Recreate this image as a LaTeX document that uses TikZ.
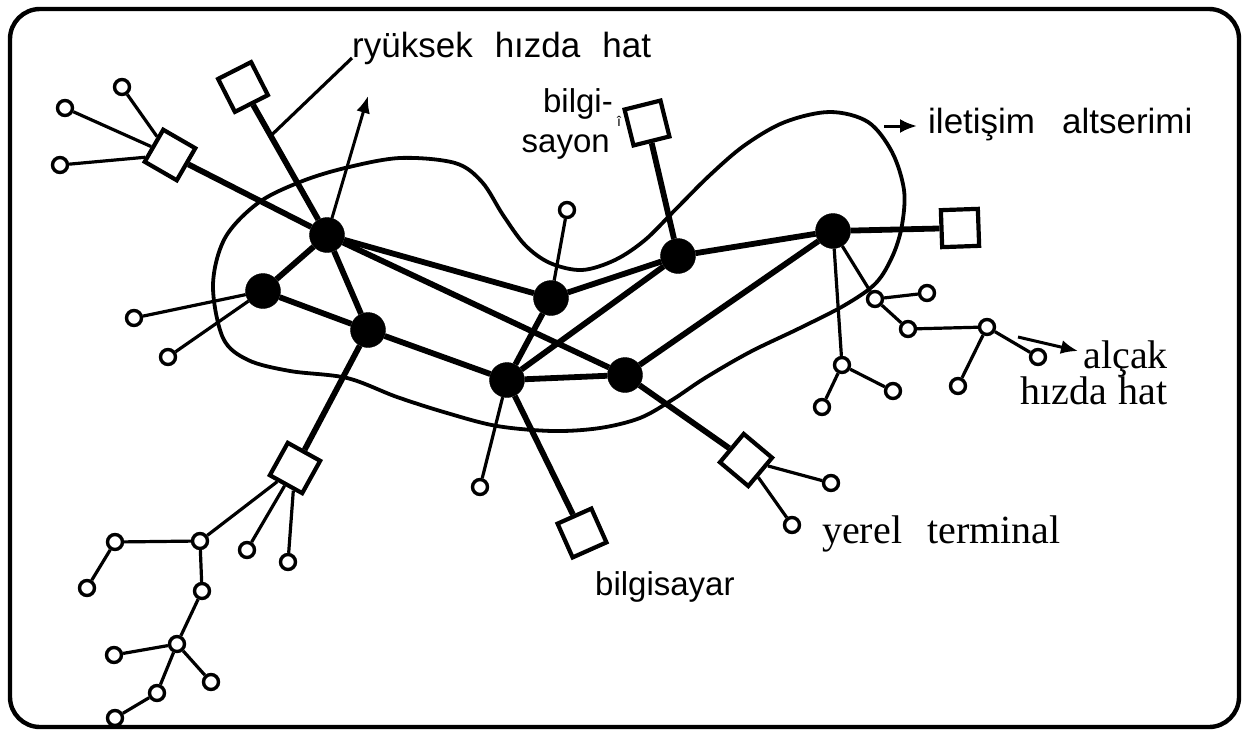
\documentclass[tikz,border=0pt]{standalone}
\usepackage{fontspec}
\setmainfont{Liberation Serif}
\newfontfamily\labelsans{Liberation Sans}
\usetikzlibrary{calc,arrows.meta}

\tikzset{
  hub/.style={circle,fill=black,draw=black,minimum size=35pt,inner sep=0pt},
  host/.style={rectangle,draw=black,fill=white,line width=4.2pt,minimum size=37pt,inner sep=0pt},
  term/.style={circle,draw=black,fill=white,line width=3.4pt,minimum size=15pt,inner sep=0pt},
  trunk/.style={line width=5.8pt},
  spur/.style={line width=3.2pt},
  contour/.style={line width=3.8pt},
  pointer/.style={line width=3pt,-{Latex[length=17pt,width=14pt]}},
  sanslabel/.style={font=\labelsans\fontsize{33}{36}\selectfont,inner sep=0pt},
  biglabel/.style={font=\labelsans\fontsize{35}{38}\selectfont,inner sep=0pt},
  seriflabel/.style={font=\fontsize{40}{40}\selectfont,inner sep=0pt},
}

\begin{document}
\begin{tikzpicture}[x=1pt,y=-1pt]
\useasboundingbox (0,0) rectangle (1247,736);

% outer frame
\draw[line width=4.4pt,rounded corners=30pt] (10,9) rectangle (1239,727);

% communication subnetwork boundary
\draw[contour] plot[smooth cycle,tension=0.55] coordinates {
  (213,285) (225,238) (258,203) (300,182) (345,168) (400,158) (455,163)
  (482,182) (503,215) (525,245) (550,263) (582,270) (615,260) (645,240)
  (675,210) (710,175) (745,145) (785,122) (830,112) (868,122) (892,152)
  (904,190) (902,225) (893,255) (876,283) (845,305) (800,328) (750,352)
  (705,378) (672,400) (640,418) (600,428) (553,431) (497,426) (447,413)
  (397,397) (347,378) (290,371) (248,360) (223,338)};

% switching nodes
\node[hub] (A) at (327,235) {};
\node[hub] (B) at (263,291) {};
\node[hub] (C) at (368,330) {};
\node[hub] (D) at (551,298) {};
\node[hub] (E) at (678,256) {};
\node[hub] (F) at (833,231) {};
\node[hub] (G) at (507,380) {};
\node[hub] (H) at (625,375) {};

% hosts
\node[host,rotate=-30] (S1) at (170,155) {};
\node[host,rotate=27]  (S2) at (243,87) {};
\node[host,rotate=14]  (S3) at (647,123) {};
\node[host,rotate=2]   (S4) at (960,228) {};
\node[host,rotate=-29] (S5) at (295,468) {};
\node[host,rotate=24]  (S6) at (582,533) {};
\node[host,rotate=50]  (S7) at (746,460) {};

% terminals
\node[term] (t1) at (65,108) {};
\node[term] (t2) at (122,87) {};
\node[term] (t3) at (60,165) {};
\node[term] (t4) at (134,318) {};
\node[term] (t5) at (168,357) {};
\node[term] (t6) at (567,210) {};
\node[term] (t7) at (480,487) {};
\node[term] (t8) at (831,483) {};
\node[term] (t9) at (792,525) {};
\node[term] (u1) at (247,550) {};
\node[term] (u2) at (288,562) {};
\node[term] (T1) at (200,541) {};
\node[term] (T2) at (115,542) {};
\node[term] (T3) at (87,588) {};
\node[term] (T4) at (202,591) {};
\node[term] (T5) at (177,644) {};
\node[term] (T6) at (114,655) {};
\node[term] (T7) at (211,682) {};
\node[term] (T8) at (157,693) {};
\node[term] (T9) at (115,718) {};
\node[term] (R1) at (875,299) {};
\node[term] (R2) at (927,293) {};
\node[term] (R3) at (908,329) {};
\node[term] (R4) at (987,327) {};
\node[term] (R5) at (1038,357) {};
\node[term] (R6) at (958,386) {};
\node[term] (R7) at (842,365) {};
\node[term] (R8) at (822,407) {};
\node[term] (R9) at (893,391) {};

% high-speed trunk lines
\draw[trunk] (A) -- (B);
\draw[trunk] (A) -- (C);
\draw[trunk] (A) -- (D);
\draw[trunk] (A) -- (H);
\draw[trunk] (B) -- (C);
\draw[trunk] (C) -- (G);
\draw[trunk] (G) -- (H);
\draw[trunk] (G) -- (D);
\draw[trunk] (G) -- (E);
\draw[trunk] (D) -- (E);
\draw[trunk] (E) -- (F);
\draw[trunk] (H) -- (F);
\draw[trunk] (A) -- (S1);
\draw[trunk] (A) -- (S2);
\draw[trunk] (E) -- (S3);
\draw[trunk] (F) -- (S4);
\draw[trunk] (C) -- (S5);
\draw[trunk] (G) -- (S6);
\draw[trunk] (H) -- (S7);

% low-speed lines
\draw[spur] (t1) -- (S1);
\draw[spur] (t2) -- (S1);
\draw[spur] (t3) -- (S1);
\draw[spur] (t4) -- (B);
\draw[spur] (t5) -- (B);
\draw[spur] (t6) -- (D);
\draw[spur] (t7) -- (G);
\draw[spur] (t8) -- (S7);
\draw[spur] (t9) -- (S7);
\draw[spur] (u1) -- (S5);
\draw[spur] (u2) -- (S5);
\draw[spur] (T1) -- (S5);
\draw[spur] (T1) -- (T2);
\draw[spur] (T2) -- (T3);
\draw[spur] (T1) -- (T4);
\draw[spur] (T4) -- (T5);
\draw[spur] (T5) -- (T6);
\draw[spur] (T5) -- (T7);
\draw[spur] (T5) -- (T8);
\draw[spur] (T8) -- (T9);
\draw[spur] (F) -- (R1);
\draw[spur] (R1) -- (R2);
\draw[spur] (R1) -- (R3);
\draw[spur] (R3) -- (R4);
\draw[spur] (R4) -- (R5);
\draw[spur] (R4) -- (R6);
\draw[spur] (F) -- (R7);
\draw[spur] (R7) -- (R8);
\draw[spur] (R7) -- (R9);

% labels
\node[biglabel,anchor=base west] (hs) at (352,57) {ryüksek\hspace{22pt}hızda\hspace{22pt}hat};
\node[sanslabel,anchor=base east] (bs1) at (613,112) {bilgi-};
\node[sanslabel,anchor=base east] (bs2) at (610,152) {sayon};
\node[font=\labelsans\fontsize{14}{14}\selectfont,inner sep=0pt] (bsm) at (619,121) {î};
\node[biglabel,anchor=base west] (comm) at (928,133) {iletişim\hspace{27pt}altserimi};
\node[seriflabel,anchor=base east] (ls1) at (1168,368) {alçak};
\node[seriflabel,anchor=base east] (ls2) at (1168,404) {hızda\hspace{12pt}hat};
\node[seriflabel,anchor=base west] (lt) at (822,543) {yerel\hspace{25pt}terminal};
\node[sanslabel,anchor=base west] (comp) at (595,595) {bilgisayar};

% pointers
\coordinate (hsA) at ($(A)!0.67!(S2)$);
\coordinate (hsB) at (352,58);
\draw[spur] (hsA) -- (hsB);
\coordinate (upTip) at (368,96);
\draw[pointer] (A) -- (upTip);
\coordinate (cStart) at (884,126);
\coordinate (cEnd) at (917,126);
\draw[pointer] (cStart) -- (cEnd);
\coordinate (lsStart) at (1018,337);
\coordinate (lsEnd) at (1078,351);
\draw[pointer] (lsStart) -- (lsEnd);
\end{tikzpicture}
\end{document}
